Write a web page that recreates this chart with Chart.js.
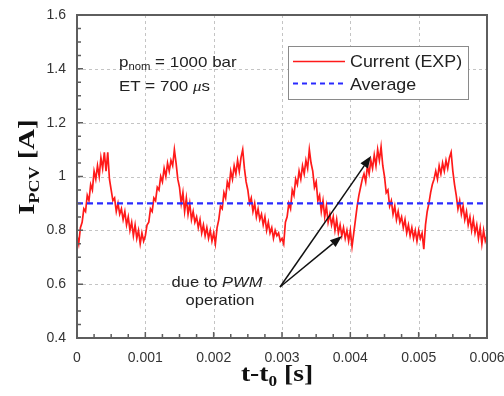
<!DOCTYPE html>
<html>
<head>
<meta charset="utf-8">
<script src="https://cdn.jsdelivr.net/npm/chart.js@4.4.1/dist/chart.umd.min.js"></script>
<style>
  html, body { margin: 0; padding: 0; background: #fff; }
  #wrap { width: 504px; height: 396px; }
</style>
</head>
<body>
<div id="wrap"><canvas id="pcvChart" width="504" height="396"></canvas></div>
<script>
// data
const seriesNames = ['Current (EXP)', 'Average'];
const timeStep = 0.000025; // seconds between the samples below
const currentValues = [
  0.78, 0.75, 0.81, 0.83, 0.88, 0.87, 0.93, 0.91, 0.97, 0.95,
  1.02, 0.99, 1.04, 1.00, 1.07, 1.03, 1.09, 1.02, 1.09, 0.99,
  0.95, 0.91, 0.92, 0.87, 0.90, 0.86, 0.88, 0.84, 0.87, 0.82,
  0.85, 0.80, 0.83, 0.78, 0.82, 0.77, 0.80, 0.75, 0.79, 0.76,
  0.78, 0.82, 0.83, 0.88, 0.87, 0.92, 0.91, 0.96, 0.95, 1.00,
  0.98, 1.03, 1.00, 1.05, 1.02, 1.06, 1.04, 1.10, 1.05, 0.99,
  0.96, 0.90, 0.94, 0.87, 0.92, 0.86, 0.90, 0.84, 0.87, 0.83,
  0.85, 0.81, 0.84, 0.79, 0.82, 0.78, 0.81, 0.77, 0.80, 0.76,
  0.79, 0.75, 0.81, 0.84, 0.89, 0.88, 0.94, 0.92, 0.98, 0.96,
  1.02, 0.99, 1.04, 1.01, 1.06, 1.02, 1.07, 1.10, 1.03, 0.98,
  0.95, 0.90, 0.92, 0.87, 0.90, 0.85, 0.88, 0.84, 0.86, 0.82,
  0.85, 0.80, 0.83, 0.79, 0.81, 0.77, 0.80, 0.78, 0.79, 0.76,
  0.77, 0.75, 0.83, 0.85, 0.90, 0.88, 0.95, 0.93, 0.99, 0.97,
  1.02, 0.99, 1.04, 1.01, 1.06, 1.03, 1.10, 1.05, 1.02, 0.96,
  0.98, 0.91, 0.93, 0.87, 0.91, 0.85, 0.89, 0.83, 0.86, 0.82,
  0.85, 0.80, 0.84, 0.79, 0.82, 0.78, 0.81, 0.77, 0.80, 0.76,
  0.80, 0.74, 0.79, 0.84, 0.89, 0.93, 0.96, 0.99, 1.01, 0.98,
  1.04, 1.01, 1.06, 1.03, 1.08, 1.04, 1.10, 1.06, 1.11, 1.04,
  1.00, 0.94, 0.95, 0.89, 0.91, 0.86, 0.89, 0.84, 0.87, 0.83,
  0.85, 0.81, 0.84, 0.79, 0.82, 0.78, 0.81, 0.77, 0.80, 0.76,
  0.80, 0.77, 0.79, 0.73, 0.82, 0.87, 0.90, 0.94, 0.97, 0.99,
  1.02, 0.99, 1.04, 1.01, 1.05, 1.02, 1.06, 1.03, 1.07, 1.09,
  1.02, 0.97, 0.93, 0.88, 0.91, 0.86, 0.89, 0.84, 0.87, 0.82,
  0.85, 0.80, 0.84, 0.79, 0.82, 0.77, 0.81, 0.75, 0.80, 0.76,
  0.78
];
const averageTimes = [0, 0.006];
const averageValues = [0.9, 0.9];
const xTicks = [0, 0.001, 0.002, 0.003, 0.004, 0.005, 0.006];
const yTicks = [0.4, 0.6, 0.8, 1.0, 1.2, 1.4, 1.6];

const currentPoints = currentValues.map((v, i) => ({ x: i * timeStep, y: v }));
const averagePoints = averageTimes.map((t, i) => ({ x: t, y: averageValues[i] }));

const axisGray = '#5e5e5e';
const sansFont = "'Liberation Sans', Arial, sans-serif";
const serifFont = "'Liberation Serif', 'Times New Roman', serif";

// draws a run of text pieces, squeezed/stretched sideways by sx
function drawPieces(ctx, pieces, x, y, sx, align) {
  let total = 0;
  pieces.forEach(p => { ctx.font = p.font; total += ctx.measureText(p.text).width; });
  ctx.save();
  ctx.translate(x, y);
  ctx.scale(sx, 1);
  let cx = align === 'center' ? -total / 2 : 0;
  ctx.textAlign = 'left';
  ctx.textBaseline = 'alphabetic';
  pieces.forEach(p => {
    ctx.font = p.font;
    ctx.fillText(p.text, cx, p.dy || 0);
    cx += ctx.measureText(p.text).width;
  });
  ctx.restore();
}

function arrow(ctx, x0, y0, x1, y1) {
  const ang = Math.atan2(y1 - y0, x1 - x0);
  const len = 12, half = 4.5;
  const bx = x1 - len * Math.cos(ang), by = y1 - len * Math.sin(ang);
  ctx.beginPath();
  ctx.moveTo(x0, y0);
  ctx.lineTo(bx, by);
  ctx.stroke();
  ctx.beginPath();
  ctx.moveTo(x1, y1);
  ctx.lineTo(bx - half * Math.sin(ang), by + half * Math.cos(ang));
  ctx.lineTo(bx + half * Math.sin(ang), by - half * Math.cos(ang));
  ctx.closePath();
  ctx.fill();
}

const decorPlugin = {
  id: 'decor',
  beforeDatasetsDraw(chart) {
    // dashed grid at the labelled ticks
    const { ctx, chartArea: a, scales } = chart;
    ctx.save();
    ctx.strokeStyle = '#c4c4c4';
    ctx.lineWidth = 1;
    ctx.setLineDash([3, 3]);
    ctx.beginPath();
    xTicks.forEach(v => {
      const px = Math.round(scales.x.getPixelForValue(v)) + 0.5;
      ctx.moveTo(px, a.top); ctx.lineTo(px, a.bottom);
    });
    yTicks.forEach(v => {
      const py = Math.round(scales.y.getPixelForValue(v)) + 0.5;
      ctx.moveTo(a.left, py); ctx.lineTo(a.right, py);
    });
    ctx.stroke();
    ctx.restore();
  },
  afterDatasetsDraw(chart) {
    const { ctx, chartArea: a, scales } = chart;
    const xs = scales.x, ys = scales.y;
    ctx.save();

    // frame
    ctx.strokeStyle = axisGray;
    ctx.lineWidth = 2;
    ctx.strokeRect(a.left, a.top, a.right - a.left, a.bottom - a.top);

    // inward ticks, 4 subdivisions between labelled ticks
    ctx.lineWidth = 1.5;
    ctx.beginPath();
    for (let i = 0; i < xTicks.length; i++) {
      const px = xs.getPixelForValue(xTicks[i]);
      ctx.moveTo(px, a.bottom); ctx.lineTo(px, a.bottom - 6);
      if (i < xTicks.length - 1) {
        for (let k = 1; k < 4; k++) {
          const m = xs.getPixelForValue(xTicks[i] + (xTicks[i + 1] - xTicks[i]) * k / 4);
          ctx.moveTo(m, a.bottom); ctx.lineTo(m, a.bottom - 4);
        }
      }
    }
    for (let i = 0; i < yTicks.length; i++) {
      const py = ys.getPixelForValue(yTicks[i]);
      ctx.moveTo(a.left, py); ctx.lineTo(a.left + 6, py);
      if (i < yTicks.length - 1) {
        for (let k = 1; k < 4; k++) {
          const m = ys.getPixelForValue(yTicks[i] + (yTicks[i + 1] - yTicks[i]) * k / 4);
          ctx.moveTo(a.left, m); ctx.lineTo(a.left + 4, m);
        }
      }
    }
    ctx.stroke();

    // legend box
    ctx.fillStyle = '#fff';
    ctx.fillRect(288, 46, 180, 53);
    ctx.strokeStyle = '#8a8a8a';
    ctx.lineWidth = 1;
    ctx.strokeRect(288.5, 46.5, 180, 53);
    const ds = chart.data.datasets;
    ctx.lineWidth = 1.5;
    ctx.strokeStyle = ds[0].borderColor;
    ctx.beginPath(); ctx.moveTo(293, 61.5); ctx.lineTo(345, 61.5); ctx.stroke();
    ctx.lineWidth = 2;
    ctx.strokeStyle = ds[1].borderColor;
    ctx.setLineDash([5, 4]);
    ctx.beginPath(); ctx.moveTo(293, 83.5); ctx.lineTo(345, 83.5); ctx.stroke();
    ctx.setLineDash([]);
    ctx.fillStyle = '#222';
    drawPieces(ctx, [{ text: ds[0].label, font: '17px ' + sansFont }], 350, 67, 1.05, 'left');
    drawPieces(ctx, [{ text: ds[1].label, font: '17px ' + sansFont }], 350, 90, 1.05, 'left');

    // operating point text
    drawPieces(ctx, [
      { text: 'p', font: '15px ' + sansFont },
      { text: 'nom', font: '10px ' + sansFont, dy: 3 },
      { text: ' = 1000 bar', font: '15px ' + sansFont }
    ], 119, 67, 1.13, 'left');
    drawPieces(ctx, [
      { text: 'ET = 700 ', font: '15px ' + sansFont },
      { text: 'μ', font: 'italic 15px ' + serifFont },
      { text: 's', font: '15px ' + sansFont }
    ], 119, 91, 1.13, 'left');

    // PWM note and arrows
    drawPieces(ctx, [
      { text: 'due to ', font: '15px ' + sansFont },
      { text: 'PWM', font: 'italic 15px ' + sansFont }
    ], 217, 287, 1.1, 'center');
    drawPieces(ctx, [{ text: 'operation', font: '15px ' + sansFont }], 220, 305, 1.1, 'center');
    ctx.strokeStyle = '#111';
    ctx.fillStyle = '#111';
    ctx.lineWidth = 1.5;
    arrow(ctx, 280, 287, 371, 156);
    arrow(ctx, 280, 287, 342, 236);

    // axis titles
    ctx.fillStyle = '#111';
    drawPieces(ctx, [
      { text: 't-t', font: 'bold 24px ' + serifFont },
      { text: '0', font: 'bold 15px ' + serifFont, dy: 5 },
      { text: ' [s]', font: 'bold 24px ' + serifFont }
    ], 277, 381, 1.15, 'center');
    ctx.save();
    ctx.translate(34, 167);
    ctx.rotate(-Math.PI / 2);
    drawPieces(ctx, [
      { text: 'I', font: 'bold 24px ' + serifFont },
      { text: 'PCV', font: 'bold 15px ' + serifFont, dy: 5 },
      { text: ' [A]', font: 'bold 24px ' + serifFont }
    ], 0, 0, 1.2, 'center');
    ctx.restore();

    ctx.restore();
  }
};

new Chart(document.getElementById('pcvChart'), {
  type: 'line',
  data: {
    datasets: [
      {
        label: seriesNames[0],
        data: currentPoints,
        borderColor: '#ff1a1a',
        borderWidth: 1.7,
        pointRadius: 0,
        tension: 0,
        order: 1
      },
      {
        label: seriesNames[1],
        data: averagePoints,
        borderColor: '#2a2aff',
        borderWidth: 2.2,
        borderDash: [6, 4],
        pointRadius: 0,
        order: 0
      }
    ]
  },
  options: {
    responsive: false,
    animation: false,
    layout: { padding: { top: 15, right: 17, left: 0, bottom: 0 } },
    plugins: { legend: { display: false }, tooltip: { enabled: false } },
    scales: {
      x: {
        type: 'linear',
        min: 0,
        max: 0.006,
        afterFit: s => { s.height = 58; s.paddingLeft = 0; s.paddingRight = 0; },
        afterBuildTicks: s => { s.ticks = xTicks.map(v => ({ value: v })); },
        ticks: {
          padding: 12,
          color: '#333',
          font: { family: sansFont, size: 14 },
          maxRotation: 0,
          callback: v => v === 0 ? '0' : v.toFixed(3)
        },
        grid: { display: false, drawTicks: false },
        border: { display: false }
      },
      y: {
        type: 'linear',
        min: 0.4,
        max: 1.6,
        afterFit: s => { s.width = 77; s.paddingTop = 0; s.paddingBottom = 0; },
        afterBuildTicks: s => { s.ticks = yTicks.map(v => ({ value: v })); },
        ticks: {
          padding: 11,
          color: '#333',
          font: { family: sansFont, size: 14 },
          callback: v => String(parseFloat(v.toFixed(1)))
        },
        grid: { display: false, drawTicks: false },
        border: { display: false }
      }
    }
  },
  plugins: [decorPlugin]
});
</script>
</body>
</html>
